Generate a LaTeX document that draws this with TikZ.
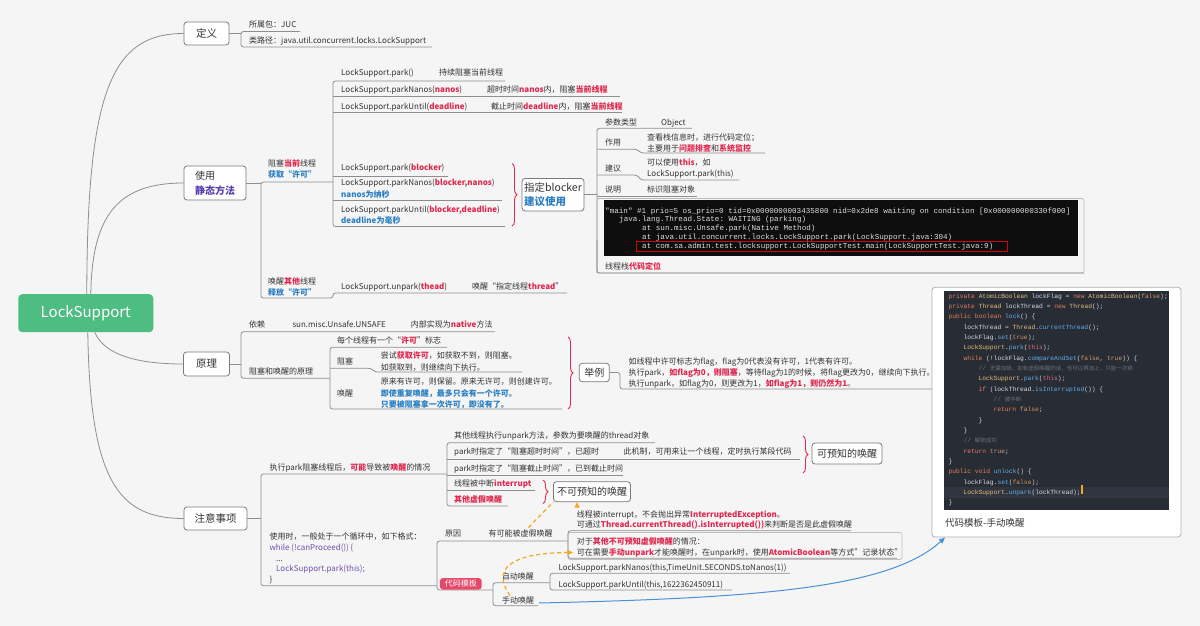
\documentclass[tikz,border=0pt]{standalone}
\usepackage{fontspec}
\setmainfont{Noto Sans CJK SC}
\setmonofont{Liberation Mono}
\usetikzlibrary{decorations.pathreplacing,arrows.meta}
\definecolor{bg}{HTML}{F5F5F5}
\definecolor{tc}{HTML}{333333}
\definecolor{lc}{HTML}{8E8E8E}
\definecolor{bd}{HTML}{7A7A7A}
\definecolor{rc}{HTML}{E0284F}
\definecolor{bc}{HTML}{2A7FC4}
\definecolor{pc}{HTML}{5A3FAE}
\definecolor{pu}{HTML}{6E4FB0}
\definecolor{gc}{HTML}{4DBD82}
\definecolor{oc}{HTML}{F5A623}
\definecolor{blc}{HTML}{4A90D9}
\definecolor{cbg}{HTML}{282C34}
\definecolor{chl}{HTML}{31353F}
\definecolor{cpl}{HTML}{D7DAE0}
\definecolor{ckw}{HTML}{E5805A}
\definecolor{cty}{HTML}{E5C07B}
\definecolor{cme}{HTML}{61AFEF}
\definecolor{cli}{HTML}{D19A66}
\definecolor{cth}{HTML}{E06C75}
\definecolor{ccm}{HTML}{6A737D}
\definecolor{stbg}{HTML}{0E0E0E}
\definecolor{stc}{HTML}{DDDDDD}
\newcommand\rb[1]{\textcolor{rc}{\bfseries #1}}
\newcommand\bb[1]{\textcolor{bc}{\bfseries #1}}
\newcommand\cKW[1]{\textcolor{ckw}{#1}}
\newcommand\cTY[1]{\textcolor{cty}{#1}}
\newcommand\cME[1]{\textcolor{cme}{#1}}
\newcommand\cLI[1]{\textcolor{cli}{#1}}
\newcommand\cTH[1]{\textcolor{cth}{#1}}
\newcommand\cCM[1]{\textcolor{ccm}{#1}}
\begin{document}
\begin{tikzpicture}[x=1pt,y=-1pt,
  t/.style={anchor=base west,inner sep=0pt,font=\fontsize{8}{10}\selectfont,text=tc},
  ln/.style={draw=lc,line width=0.8pt,rounded corners=2.5pt},
  topic/.style={draw=bd,fill=white,rounded corners=3pt,line width=0.8pt,inner sep=0pt,text=tc,font=\fontsize{10.5}{14}\selectfont,align=left},
  brc/.style={draw=rc,line width=0.9pt,decorate,decoration={brace,amplitude=5pt}},
  cd/.style={anchor=base west,inner sep=0pt,font=\fontsize{6.3}{7}\ttfamily,text=cpl},
  st/.style={anchor=base west,inner sep=0pt,font=\fontsize{7.6}{8}\ttfamily,text=stc},
  oarr/.style={draw=oc,line width=1.2pt,dash pattern=on 4pt off 3pt,-{Triangle[length=5.5pt,width=5pt]}},
]
\useasboundingbox[fill=bg] (0,0) rectangle (1200,626);

% ---------- root ----------
\node[fill=gc,rounded corners=4pt,minimum width=135pt,minimum height=38pt,text=white,font=\fontsize{15}{18}\selectfont,inner sep=0pt] (root) at (85.8,313.2) {LockSupport};

% ---------- main topics ----------
\node[topic,minimum width=45pt,minimum height=23pt] (def) at (206.5,33.5) {定义};
\node[topic,minimum width=62pt,minimum height=34pt,font=\fontsize{10}{15}\selectfont] (use) at (215,183) {使用\\\textcolor{pc}{\bfseries 静态方法}};
\node[topic,minimum width=46pt,minimum height=24pt] (prin) at (206.5,364) {原理};
\node[topic,minimum width=63pt,minimum height=23pt] (note) at (215.5,518.5) {注意事项};

\draw[ln] ([xshift=1pt]root.north) .. controls (87,90) and (112,33.5) .. (def.west);
\draw[ln] ([xshift=5pt]root.north) .. controls (92,215) and (118,183) .. (use.west);
\draw[ln] ([xshift=9pt]root.south) .. controls (105,356) and (140,364) .. (prin.west);
\draw[ln] ([xshift=2pt]root.south) .. controls (90,480) and (118,518.5) .. (note.west);

% ---------- 定义 ----------
\draw[ln] (def.east) -- (241,33.5);
\draw[ln] (300,31.5) -- (241,31.5) -- (241,47) -- (432,47);
\node[t] (pkg) at (249,27.5) {所属包：JUC};
\node[t] (cls) at (249,44) {类路径：java.util.concurrent.locks.LockSupport};

% ---------- 使用 ----------
\draw[ln] (use.east) -- (261,183);
\draw[ln] (333,182) -- (261,182) -- (261,298) -- (333,298) -- (333,293) -- (567,293);
\node[t] (blk1) at (268,166.8) {阻塞\rb{当前}线程};
\node[t] (blk2) at (268,177.5) {\bb{获取“许可”}};
\node[t] (wak1) at (268,284) {唤醒\rb{其他}线程};
\node[t] (wak2) at (268,295) {\bb{释放“许可”}};

\draw[ln] (505,81) -- (333,81) -- (333,226.5) -- (505,226.5);
\draw[ln] (333,96.7) -- (620,96.7);
\draw[ln] (333,112.7) -- (622,112.7);
\draw[ln] (333,176) -- (448,176);
\draw[ln] (333,200.5) -- (502,200.5);
\node[t] (p1) at (341,75.8) {LockSupport.park()};
\node[t] (p1d) at (439,75.8) {持续阻塞当前线程};
\node[t] (p2) at (341,92.5) {LockSupport.parkNanos(\rb{nanos})};
\node[t] (p2d) at (487,92.5) {超时时间\rb{nanos}内，阻塞\rb{当前线程}};
\node[t] (p3) at (341,109.2) {LockSupport.parkUntil(\rb{deadline})};
\node[t] (p3d) at (491,109.2) {截止时间\rb{deadline}内，阻塞\rb{当前线程}};
\node[t] (p4) at (341,170.8) {LockSupport.park(\rb{blocker})};
\node[t] (p5) at (341,185.8) {LockSupport.parkNanos(\rb{blocker,nanos})};
\node[t] (p5d) at (341,197.5) {\bb{nanos为纳秒}};
\node[t] (p6) at (341,212.5) {LockSupport.parkUntil(\rb{blocker,deadline})};
\node[t] (p6d) at (341,223.2) {\bb{deadline为毫秒}};

\draw[brc] (512,163.5) -- (512,226);
\node[topic,minimum width=62pt,minimum height=32.5pt,font=\fontsize{10.5}{13.5}\selectfont] (blkr) at (553,194.7) {指定blocker\\\bb{建议使用}};
\draw[ln] (blkr.east) -- (597,194.7);

\draw[ln] (692,128.3) -- (597,128.3) -- (597,273);
\draw[ln] (597,149.3) -- (637,149.3) -- (641,153) -- (765,153);
\draw[ln] (597,175) -- (637,175) -- (641,180) -- (739,180);
\draw[ln] (597,196) -- (697,196);
\node[t] (ptype) at (605,125.2) {参数类型};
\node[t] (pobj) at (661,125.2) {Object};
\node[t] (pact) at (605,145.8) {作用};
\node[t] (pact1) at (647,140.8) {查看栈信息时，进行代码定位；};
\node[t] (pact2) at (647,151.5) {主要用于\rb{问题排查}和\rb{系统监控}};
\node[t] (psug) at (605,171.8) {建议};
\node[t] (psug1) at (647,165.8) {可以使用\rb{this}，如};
\node[t] (psug2) at (647,176.8) {LockSupport.park(this)};
\node[t] (pexp) at (605,192.5) {说明};
\node[t] (pexp1) at (647,192.5) {标识阻塞对象};

\draw[draw=lc!60,line width=0.7pt,rounded corners=2pt] (597,198.5) rectangle (1084,273);
\draw[ln] (597,240) -- (597,273) -- (1084,273);
\fill[stbg] (603.5,200) rectangle (1078,255.5);
\node[st] (s1) at (605,213) {"main" \#1 prio=5 os\_prio=0 tid=0x0000000003435800 nid=0x2de8 waiting on condition [0x000000000330f000]};
\node[st] (s2) at (619,221.6) {java.lang.Thread.State: WAITING (parking)};
\node[st] (s3) at (642,230.4) {at sun.misc.Unsafe.park(Native Method)};
\node[st] (s4) at (642,239.2) {at java.util.concurrent.locks.LockSupport.park(LockSupport.java:304)};
\node[st] (s5) at (642,248.1) {at com.sa.admin.test.locksupport.LockSupportTest.main(LockSupportTest.java:9)};
\draw[draw=red!85!black,line width=0.9pt] (636.5,241.5) rectangle (1007,251);
\node[t] (pstk) at (605,269.2) {线程栈\rb{代码定位}};

\node[t] (unp) at (341,289.8) {LockSupport.unpark(\rb{thead})};
\node[t] (unpd) at (472,289.8) {唤醒“指定线程\rb{thread}”};

% ---------- 原理 ----------
\draw[ln] (prin.east) -- (241,364);
\draw[ln] (495,331.7) -- (241,331.7) -- (241,378.3) -- (330,378.3);
\node[t] (dep) at (249,327.5) {依赖};
\node[t] (dep1) at (292.3,327.5) {sun.misc.Unsafe.UNSAFE};
\node[t] (dep2) at (410.7,327.5) {内部实现为\rb{native}方法};
\node[t] (bwp) at (249,374.2) {阻塞和唤醒的原理};

\draw[ln] (447,347.3) -- (330,347.3) -- (330,409) -- (562,409);
\draw[ln] (330,368.3) -- (371,368.3) -- (375,372) -- (522,372);
\node[t] (lic) at (337,343.2) {每个线程有一个“\rb{许可}”标志};
\node[t] (zs) at (337,364.2) {阻塞};
\node[t] (zs1) at (380.7,358.2) {尝试\rb{获取许可}，如获取不到，则阻塞。};
\node[t] (zs2) at (380.7,370) {如获取到，则继续向下执行。};
\node[t] (hx) at (337,396.5) {唤醒};
\node[t] (hx1) at (380.7,384.8) {原来有许可，则保留。原来无许可，则创建许可。};
\node[t] (hx2) at (380.7,396) {\bb{即使重复唤醒，最多只会有一个许可。}};
\node[t] (hx3) at (380.7,407.2) {\bb{只要被阻塞拿一次许可，即没有了。}};

\draw[brc] (568,337) -- (568,409);
\node[topic,minimum width=30pt,minimum height=18.5pt,font=\fontsize{10}{12}\selectfont] (ex) at (594.3,372.5) {举例};
\draw[ln] (ex.east) -- (620,372.5) -- (620,389) -- (932,389);
\node[t] (ex1) at (628.3,364.2) {如线程中许可标志为flag，flag为0代表没有许可，1代表有许可。};
\node[t] (ex2) at (628.3,375.6) {执行park，\rb{如flag为0，则阻塞}，等待flag为1的时候，将flag更改为0，继续向下执行。};
\node[t] (ex3) at (628.3,386.6) {执行unpark，如flag为0，则更改为1，\rb{如flag为1，则仍然为1}。};

% ---------- code template ----------
\draw[draw=lc!70,fill=white,line width=0.8pt,rounded corners=3pt] (932,287.3) rectangle (1181,537);
\fill[cbg] (944.3,290.7) rectangle (1169,510);
\fill[chl] (944.3,487) rectangle (1169,498);
\node[cd] (c1) at (948.3,298) {\cKW{private} \cTY{AtomicBoolean} lockFlag = \cKW{new} \cTY{AtomicBoolean}(\cLI{false});};
\node[cd] (c2) at (948.3,308.3) {\cKW{private} \cTY{Thread} lockThread = \cKW{new} \cTY{Thread}();};
\node[cd] (c3) at (948.3,318.7) {\cKW{public} \cKW{boolean} \cME{lock}() \{};
\node[cd] (c4) at (963.3,329) {lockThread = \cTY{Thread}.\cME{currentThread}();};
\node[cd] (c5) at (963.3,339.3) {lockFlag.\cME{set}(\cLI{true});};
\node[cd] (c6) at (963.3,349.7) {\cTY{LockSupport}.\cME{park}(\cTH{this});};
\node[cd] (c7) at (963.3,360) {\cKW{while} (!lockFlag.\cME{compareAndSet}(\cLI{false}, \cLI{true})) \{};
\node[cd] (c8) at (978.3,370.3) {\cCM{// {\rmfamily\fontsize{5.5}{6}\selectfont 无需加锁，如有虚假唤醒的话，也可以再加上，只能一次锁}}};
\node[cd] (c9) at (978.3,380.7) {\cTY{LockSupport}.\cME{park}(\cTH{this});};
\node[cd] (c10) at (978.3,391) {\cKW{if} (lockThread.\cME{isInterrupted}()) \{};
\node[cd] (c11) at (993.3,401.3) {\cCM{// {\rmfamily\fontsize{5.5}{6}\selectfont 被中断}}};
\node[cd] (c12) at (993.3,411.7) {\cKW{return} \cLI{false};};
\node[cd] (c13) at (978.3,422) {\}};
\node[cd] (c14) at (963.3,432.3) {\}};
\node[cd] (c15) at (963.3,442.7) {\cCM{// {\rmfamily\fontsize{5.5}{6}\selectfont 解锁成功}}};
\node[cd] (c16) at (963.3,453) {\cKW{return} \cLI{true};};
\node[cd] (c17) at (948.3,463.3) {\}};
\node[cd] (c18) at (948.3,473.7) {\cKW{public} \cKW{void} \cME{unlock}() \{};
\node[cd] (c19) at (963.3,484) {lockFlag.\cME{set}(\cLI{false});};
\node[cd] (c20) at (963.3,494.3) {\cTY{LockSupport}.\cME{unpark}(lockThread);};
\node[cd] (c21) at (948.3,504.7) {\}};
\fill[oc] ([xshift=0.5pt,yshift=-1pt]c20.east) rectangle ([xshift=2.5pt,yshift=8pt]c20.east);
\node[anchor=base west,inner sep=0pt,font=\fontsize{9.5}{11}\selectfont,text=tc] (cap) at (945,526.5) {代码模板-手动唤醒};

% ---------- 注意事项 ----------
\draw[ln] (note.east) -- (261,518.5);
\draw[ln] (447,474) -- (261,474) -- (261,585.7) -- (437,585.7);
\node[t] (n1) at (269.3,470.8) {执行park阻塞线程后，\rb{可能}导致被\rb{唤醒}的情况};

\draw[ln] (655,442.7) -- (447,442.7) -- (447,506) -- (508,506);
\draw[ln] (447,459.3) -- (800,459.3);
\draw[ln] (447,475) -- (623,475);
\draw[ln] (447,490) -- (535,490);
\node[t] (w1) at (454,438.2) {其他线程执行unpark方法，参数为要唤醒的thread对象};
\node[t] (w2) at (454,454.8) {park时指定了“阻塞超时时间”，已超时};
\node[t] (w2d) at (623.3,454.8) {此机制，可用来让一个线程，定时执行某段代码};
\node[t] (w3) at (454,471.5) {park时指定了“阻塞截止时间”，已到截止时间};
\node[t] (w4) at (454,486.8) {线程被中断\rb{interrupt}};
\node[t] (w5) at (454,502.5) {\rb{其他虚假唤醒}};

\draw[brc] (803,436) -- (803,473);
\node[topic,minimum width=70pt,minimum height=21pt,font=\fontsize{10}{12}\selectfont] (pred) at (847,453.5) {可预知的唤醒};
\draw[brc] (543,480) -- (543,503.5);
\node[topic,minimum width=77pt,minimum height=20pt,font=\fontsize{10}{12}\selectfont] (unpred) at (592,491.7) {不可预知的唤醒};

\node[t] (u1) at (269.3,539.8) {使用时，一般处于一个循环中，如下格式：};
\node[t,text=pu] (u2) at (269.3,550.8) {while (!canProceed()) \{};
\node[t] (u3) at (276,561.8) {...};
\node[t,text=pu] (u4) at (276,571.8) {LockSupport.park(this);};
\node[t] (u5) at (269.3,582.5) {\}};

\draw[ln] (568,541) -- (437,541) -- (437,590) -- (493,590);
\node[t] (r0) at (445,536.5) {原因};
\node[t] (r1) at (488.3,536.5) {有可能被虚假唤醒};
\draw[draw=lc!55,line width=0.7pt,rounded corners=2pt] (568,532.5) rectangle (902,559.5);
\draw[ln] (851,530.7) -- (568,530.7) -- (568,558.3) -- (897,558.3);
\node[t] (r2) at (576.7,517.5) {线程被interrupt，不会抛出异常\rb{InterruptedException}。};
\node[t] (r3) at (576.7,527.6) {可通过\rb{Thread.currentThread().isInterrupted())}来判断是否是此虚假唤醒};
\node[t] (r4) at (576.7,544.2) {对于\rb{其他不可预知虚假唤醒}的情况：};
\node[t] (r5) at (576.7,555) {可在需要\rb{手动unpark}才能唤醒时，在unpark时，使用\rb{AtomicBoolean}等方式"记录状态"};

\node[fill=rc!85!white,rounded corners=3pt,minimum width=41.7pt,minimum height=11.5pt,inner sep=0pt,text=white,font=\fontsize{8}{9}\selectfont] (tpl) at (460.8,583.8) {代码模板};
\draw[ln] (550,582.7) -- (493,582.7) -- (493,605.7) -- (538.3,605.7);
\draw[ln] (790,573.3) -- (550,573.3) -- (550,590) -- (732,590);
\node[t] (a0) at (501.7,579) {自动唤醒};
\node[t] (m0) at (502,603.2) {手动唤醒};
\node[t] (a1) at (558.3,570.6) {LockSupport.parkNanos(this,TimeUnit.SECONDS.toNanos(1))};
\node[t] (a2) at (558.3,587) {LockSupport.parkUntil(this,1622362450911)};

% ---------- arrows ----------
\draw[oarr] (r1.north) ++(8,-2) -- (unpred.south west) ++(24,0);
\draw[oarr] (510,595.5) .. controls (493,572) and (505,553) .. (573,552.5);
\draw[draw=blc,line width=1pt,-{Triangle[length=6pt,width=5pt]}] (539,603) .. controls (760,598) and (890,588) .. (945,537.5);
\end{tikzpicture}
\end{document}
